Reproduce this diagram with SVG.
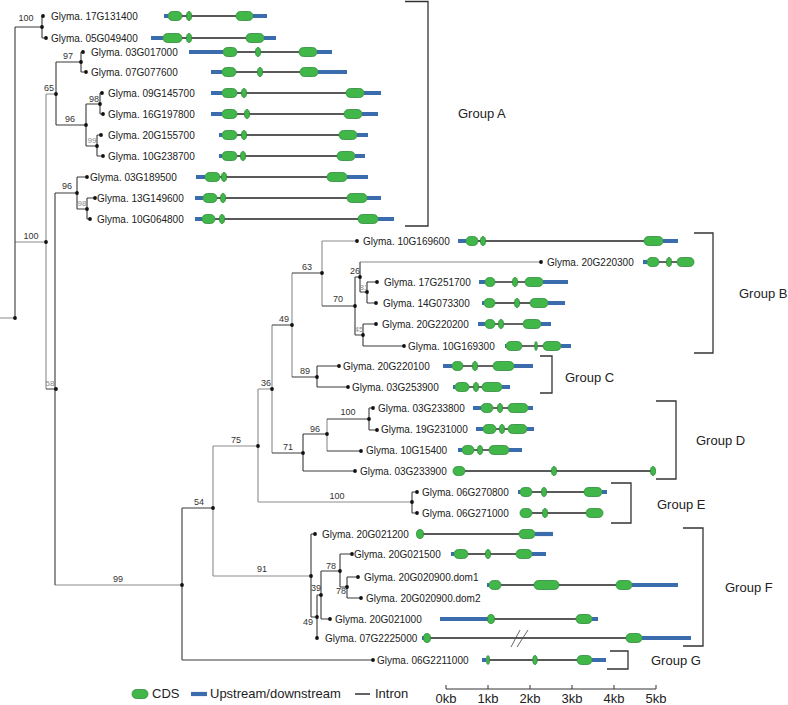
<svg xmlns="http://www.w3.org/2000/svg" width="788" height="705" viewBox="0 0 788 705">
<style>
text{font-family:"Liberation Sans",Arial,sans-serif}
.l{font-size:10px;fill:#222}
.s{font-size:9px;fill:#333;text-anchor:middle}
.sg{font-size:8px;fill:#888;text-anchor:middle}
.gl{font-size:13px;fill:#222}
.lg{font-size:13px;fill:#222}
.ax{font-size:13px;fill:#222;text-anchor:middle}
.t{fill:none;stroke:#3a3a3a;stroke-width:1.1}
.tg{fill:none;stroke:#8c8c8c;stroke-width:1.1}
.u{fill:none;stroke:#3b6cae;stroke-width:4.2}
.i{fill:none;stroke:#222;stroke-width:1.4}
.c{fill:#41b649;stroke:#2d8a3a;stroke-width:0.8}
.br{fill:none;stroke:#333;stroke-width:1.3}
.d{fill:#111}
</style>
<rect width="788" height="705" fill="#fff"/>

<g id="connectors">
<path class="tg" d="M0 318H15 M15 242H46 M46 94V389 M46 94H56 M55 585H182 M213 446V576 M213 446H258 M258 389V502 M258 389H272 M272 325V453 M292 273V377 M322 241V306 M322 241H357 M360 262H541 M327 419V451 M258 502H412 M213 576H311"/>
<path class="t" d="M15 27V318 M15 27H42 M42 16V38 M42 16H43 M42 38H46
M56 62V125 M56 62H81 M81 52V72 M81 52H83 M81 72H86 M56 125H86 M86 104V146 M86 104H100 M100 93V114 M100 93H102 M100 114H103 M86 146H97 M97 135V156 M97 135H101 M97 156H103
M46 389H55 M55 193V585 M55 193H77 M77 177V209 M77 177H87 M77 209H87 M87 198V219 M87 198H95 M87 219H90
M182 508V660 M182 660H373 M182 508H213
M272 325H292 M292 273H322 M322 306H355 M355 277V335 M355 277H360 M360 262V292 M360 292H367 M367 282V303 M367 282H377 M367 303H376 M355 335H363 M363 324V346 M363 324H376 M363 346H404
M292 377H317 M317 366V387 M317 366H339 M317 387H348
M272 453H303 M303 434V471 M303 434H327 M327 419H369 M369 408V430 M369 408H373 M369 430H377 M327 451H361 M303 471H355
M412 492V513 M412 492H417 M412 513H417
M311 534V617 M311 534H315 M311 617H317 M317 595V638 M317 595H321 M321 571V619 M321 571H340 M340 554V587 M340 554H352 M340 587H347 M347 577V598 M347 577H358 M347 598H361 M321 619H330"/>
<g class="d">
<circle cx="15" cy="318" r="1.9"/><circle cx="42" cy="27" r="1.9"/><circle cx="43" cy="16" r="1.9"/><circle cx="46" cy="38" r="1.9"/><circle cx="46" cy="242" r="1.9"/><circle cx="56" cy="94" r="1.9"/><circle cx="81" cy="62" r="1.9"/><circle cx="83" cy="52" r="1.9"/><circle cx="86" cy="72" r="1.9"/><circle cx="86" cy="125" r="1.9"/><circle cx="100" cy="104" r="1.9"/><circle cx="102" cy="93" r="1.9"/><circle cx="103" cy="114" r="1.9"/><circle cx="97" cy="146" r="1.9"/><circle cx="101" cy="135" r="1.9"/><circle cx="103" cy="156" r="1.9"/><circle cx="56" cy="389" r="1.9"/><circle cx="77" cy="193" r="1.9"/><circle cx="87" cy="177" r="1.9"/><circle cx="87" cy="209" r="1.9"/><circle cx="95" cy="198" r="1.9"/><circle cx="90" cy="219" r="1.9"/><circle cx="182" cy="585" r="1.9"/><circle cx="373" cy="660" r="1.9"/><circle cx="213" cy="508" r="1.9"/><circle cx="258" cy="446" r="1.9"/><circle cx="272" cy="389" r="1.9"/><circle cx="292" cy="325" r="1.9"/><circle cx="322" cy="273" r="1.9"/><circle cx="357" cy="241" r="1.9"/><circle cx="355" cy="306" r="1.9"/><circle cx="360" cy="277" r="1.9"/><circle cx="541" cy="262" r="1.9"/><circle cx="367" cy="292" r="1.9"/><circle cx="377" cy="282" r="1.9"/><circle cx="376" cy="303" r="1.9"/><circle cx="363" cy="335" r="1.9"/><circle cx="376" cy="324" r="1.9"/><circle cx="404" cy="346" r="1.9"/><circle cx="317" cy="377" r="1.9"/><circle cx="339" cy="366" r="1.9"/><circle cx="348" cy="387" r="1.9"/><circle cx="303" cy="453" r="1.9"/><circle cx="327" cy="434" r="1.9"/><circle cx="369" cy="419" r="1.9"/><circle cx="373" cy="408" r="1.9"/><circle cx="377" cy="430" r="1.9"/><circle cx="361" cy="451" r="1.9"/><circle cx="355" cy="471" r="1.9"/><circle cx="412" cy="502" r="1.9"/><circle cx="417" cy="492" r="1.9"/><circle cx="417" cy="513" r="1.9"/><circle cx="311" cy="576" r="1.9"/><circle cx="315" cy="534" r="1.9"/><circle cx="317" cy="617" r="1.9"/><circle cx="317" cy="638" r="1.9"/><circle cx="321" cy="595" r="1.9"/><circle cx="340" cy="571" r="1.9"/><circle cx="352" cy="554" r="1.9"/><circle cx="347" cy="587" r="1.9"/><circle cx="358" cy="577" r="1.9"/><circle cx="361" cy="598" r="1.9"/><circle cx="330" cy="619" r="1.9"/>
</g>
</g>

<g id="support">
<text class="s" x="26" y="21">100</text>
<text class="s" x="31" y="239">100</text>
<text class="s" x="49" y="91">65</text>
<text class="s" x="68" y="59">97</text>
<text class="s" x="70" y="122">96</text>
<text class="s" x="94" y="102">98</text>
<text class="sg" x="92" y="143">99</text>
<text class="s" x="67" y="189">96</text>
<text class="sg" x="82" y="206">98</text>
<text class="sg" x="50" y="386">58</text>
<text class="s" x="236" y="443">75</text>
<text class="s" x="118" y="582">99</text>
<text class="s" x="199" y="505">54</text>
<text class="s" x="266" y="386">36</text>
<text class="s" x="284" y="322">49</text>
<text class="s" x="307" y="270">63</text>
<text class="s" x="338" y="302">70</text>
<text class="s" x="355" y="274">26</text>
<text class="sg" x="364" y="290">81</text>
<text class="sg" x="359" y="332">45</text>
<text class="s" x="305" y="374">89</text>
<text class="s" x="288" y="450">71</text>
<text class="s" x="315" y="432">96</text>
<text class="s" x="348" y="415">100</text>
<text class="s" x="337" y="499">100</text>
<text class="s" x="262" y="572">91</text>
<text class="s" x="331" y="569">78</text>
<text class="s" x="316" y="591">39</text>
<text class="s" x="341" y="594">78</text>
<text class="s" x="308" y="625">49</text>
</g>

<g id="n-17G131400"><text class="l" x="51" y="19.5">Glyma. 17G131400</text><path class="u" d="M164 16H168 M253 16H267"/><path class="i" d="M182 16H236"/><rect class="c" x="168" y="11.5" width="14" height="9" rx="4.5"/><ellipse class="c" cx="189" cy="16" rx="2.5" ry="4.5"/><rect class="c" x="236" y="11.5" width="17" height="9" rx="4.5"/></g>
<g id="n-05G049400"><text class="l" x="51" y="41.5">Glyma. 05G049400</text><path class="u" d="M151 38H163 M264 38H276"/><path class="i" d="M182 38H246"/><rect class="c" x="163" y="33.5" width="19" height="9" rx="4.5"/><ellipse class="c" cx="189" cy="38" rx="2.5" ry="4.5"/><rect class="c" x="246" y="33.5" width="18" height="9" rx="4.5"/></g>
<g id="n-03G017000"><text class="l" x="91" y="55.5">Glyma. 03G017000</text><path class="u" d="M189 52H223 M317 52H332"/><path class="i" d="M237 52H299"/><rect class="c" x="223" y="47.5" width="14" height="9" rx="4.5"/><ellipse class="c" cx="258" cy="52" rx="2.5" ry="4.5"/><rect class="c" x="299" y="47.5" width="18" height="9" rx="4.5"/></g>
<g id="n-07G077600"><text class="l" x="91" y="75.5">Glyma. 07G077600</text><path class="u" d="M211 72H222 M318 72H347"/><path class="i" d="M236 72H300"/><rect class="c" x="222" y="67.5" width="14" height="9" rx="4.5"/><ellipse class="c" cx="260" cy="72" rx="2.5" ry="4.5"/><rect class="c" x="300" y="67.5" width="18" height="9" rx="4.5"/></g>
<g id="n-09G145700"><text class="l" x="108" y="96.5">Glyma. 09G145700</text><path class="u" d="M211 93H222 M364 93H381"/><path class="i" d="M237 93H346"/><rect class="c" x="222" y="88.5" width="15" height="9" rx="4.5"/><ellipse class="c" cx="244" cy="93" rx="2.5" ry="4.5"/><rect class="c" x="346" y="88.5" width="18" height="9" rx="4.5"/></g>
<g id="n-16G197800"><text class="l" x="108" y="117.5">Glyma. 16G197800</text><path class="u" d="M211 114H222 M362 114H378"/><path class="i" d="M237 114H344"/><rect class="c" x="222" y="109.5" width="15" height="9" rx="4.5"/><ellipse class="c" cx="247" cy="114" rx="2.5" ry="4.5"/><rect class="c" x="344" y="109.5" width="18" height="9" rx="4.5"/></g>
<g id="n-20G155700"><text class="l" x="108" y="138.5">Glyma. 20G155700</text><path class="u" d="M219 135H222 M357 135H368"/><path class="i" d="M237 135H339"/><rect class="c" x="222" y="130.5" width="15" height="9" rx="4.5"/><ellipse class="c" cx="244" cy="135" rx="2.5" ry="4.5"/><rect class="c" x="339" y="130.5" width="18" height="9" rx="4.5"/></g>
<g id="n-10G238700"><text class="l" x="108" y="159.5">Glyma. 10G238700</text><path class="u" d="M219 156H222 M355 156H365"/><path class="i" d="M237 156H337"/><rect class="c" x="222" y="151.5" width="15" height="9" rx="4.5"/><ellipse class="c" cx="243" cy="156" rx="2.5" ry="4.5"/><rect class="c" x="337" y="151.5" width="18" height="9" rx="4.5"/></g>
<g id="n-03G189500"><text class="l" x="90" y="180.5">Glyma. 03G189500</text><path class="u" d="M196 177H205 M347 177H368"/><path class="i" d="M220 177H327"/><rect class="c" x="205" y="172.5" width="15" height="9" rx="4.5"/><ellipse class="c" cx="224" cy="177" rx="2.5" ry="4.5"/><rect class="c" x="327" y="172.5" width="20" height="9" rx="4.5"/></g>
<g id="n-13G149600"><text class="l" x="97" y="201.5">Glyma. 13G149600</text><path class="u" d="M195 198H203 M367 198H381"/><path class="i" d="M217 198H347"/><rect class="c" x="203" y="193.5" width="14" height="9" rx="4.5"/><ellipse class="c" cx="223" cy="198" rx="2.5" ry="4.5"/><rect class="c" x="347" y="193.5" width="20" height="9" rx="4.5"/></g>
<g id="n-10G064800"><text class="l" x="97" y="222.5">Glyma. 10G064800</text><path class="u" d="M195 219H202 M378 219H394"/><path class="i" d="M215 219H358"/><rect class="c" x="202" y="214.5" width="13" height="9" rx="4.5"/><ellipse class="c" cx="222" cy="219" rx="2.5" ry="4.5"/><rect class="c" x="358" y="214.5" width="20" height="9" rx="4.5"/></g>

<g id="n-10G169600"><text class="l" x="363" y="244.5">Glyma. 10G169600</text><path class="u" d="M458 241H466 M663 241H678"/><path class="i" d="M478 241H644"/><rect class="c" x="466" y="236.5" width="12" height="9" rx="4.5"/><ellipse class="c" cx="483" cy="241" rx="2.5" ry="4.5"/><rect class="c" x="644" y="236.5" width="19" height="9" rx="4.5"/></g>
<g id="n-20G220300"><text class="l" x="547" y="265.5">Glyma. 20G220300</text><path class="u" d="M643 262H647"/><path class="i" d="M659 262H677"/><rect class="c" x="647" y="257.5" width="12" height="9" rx="4.5"/><ellipse class="c" cx="669" cy="262" rx="2.5" ry="4.5"/><rect class="c" x="677" y="257.5" width="17" height="9" rx="4.5"/></g>
<g id="n-17G251700"><text class="l" x="384" y="285.5">Glyma. 17G251700</text><path class="u" d="M479 282H485 M543 282H568"/><path class="i" d="M495 282H525"/><rect class="c" x="485" y="277.5" width="10" height="9" rx="4.5"/><ellipse class="c" cx="515" cy="282" rx="2.5" ry="4.5"/><rect class="c" x="525" y="277.5" width="18" height="9" rx="4.5"/></g>
<g id="n-14G073300"><text class="l" x="383" y="306.5">Glyma. 14G073300</text><path class="u" d="M482 303H484 M548 303H565"/><path class="i" d="M495 303H530"/><rect class="c" x="484" y="298.5" width="11" height="9" rx="4.5"/><ellipse class="c" cx="517" cy="303" rx="2.5" ry="4.5"/><rect class="c" x="530" y="298.5" width="18" height="9" rx="4.5"/></g>
<g id="n-20G220200"><text class="l" x="382" y="327.5">Glyma. 20G220200</text><path class="u" d="M478 324H485 M541 324H551"/><path class="i" d="M495 324H523"/><rect class="c" x="485" y="319.5" width="10" height="9" rx="4.5"/><ellipse class="c" cx="501" cy="324" rx="2.5" ry="4.5"/><rect class="c" x="523" y="319.5" width="18" height="9" rx="4.5"/></g>
<g id="n-10G169300"><text class="l" x="408" y="349.5">Glyma. 10G169300</text><path class="u" d="M505 346H506 M561 346H571"/><path class="i" d="M522 346H543"/><rect class="c" x="506" y="341.5" width="16" height="9" rx="4.5"/><ellipse class="c" cx="536" cy="346" rx="1.3" ry="4.5"/><rect class="c" x="543" y="341.5" width="18" height="9" rx="4.5"/></g>
<g id="n-20G220100"><text class="l" x="343" y="369.5">Glyma. 20G220100</text><path class="u" d="M443 366H452 M514 366H533"/><path class="i" d="M463 366H493"/><rect class="c" x="452" y="361.5" width="11" height="9" rx="4.5"/><ellipse class="c" cx="475" cy="366" rx="2.5" ry="4.5"/><rect class="c" x="493" y="361.5" width="21" height="9" rx="4.5"/></g>
<g id="n-03G253900"><text class="l" x="352" y="390.5">Glyma. 03G253900</text><path class="u" d="M453 387H455 M502 387H510"/><path class="i" d="M469 387H482"/><rect class="c" x="455" y="382.5" width="14" height="9" rx="4.5"/><ellipse class="c" cx="476" cy="387" rx="2.5" ry="4.5"/><rect class="c" x="482" y="382.5" width="20" height="9" rx="4.5"/></g>
<g id="n-03G233800"><text class="l" x="378" y="411.5">Glyma. 03G233800</text><path class="u" d="M473 408H481 M528 408H533"/><path class="i" d="M493 408H508"/><rect class="c" x="481" y="403.5" width="12" height="9" rx="4.5"/><ellipse class="c" cx="500" cy="408" rx="2.5" ry="4.5"/><rect class="c" x="508" y="403.5" width="20" height="9" rx="4.5"/></g>
<g id="n-19G231000"><text class="l" x="381" y="432.5">Glyma. 19G231000</text><path class="u" d="M476 429H483 M527 429H534"/><path class="i" d="M496 429H508"/><rect class="c" x="483" y="424.5" width="13" height="9" rx="4.5"/><ellipse class="c" cx="502" cy="429" rx="2.5" ry="4.5"/><rect class="c" x="508" y="424.5" width="19" height="9" rx="4.5"/></g>
<g id="n-10G15400"><text class="l" x="366" y="453.5">Glyma. 10G15400</text><path class="u" d="M458 450H462 M509 450H522"/><path class="i" d="M474 450H489"/><rect class="c" x="462" y="445.5" width="12" height="9" rx="4.5"/><ellipse class="c" cx="480" cy="450" rx="2.5" ry="4.5"/><rect class="c" x="489" y="445.5" width="20" height="9" rx="4.5"/></g>
<g id="n-03G233900"><text class="l" x="360" y="474.5">Glyma. 03G233900</text><path class="i" d="M465 471H653"/><rect class="c" x="453" y="466.5" width="12" height="9" rx="4.5"/><ellipse class="c" cx="554" cy="471" rx="2.5" ry="4.5"/><ellipse class="c" cx="653" cy="471" rx="2.5" ry="4.5"/></g>
<g id="n-06G270800"><text class="l" x="422" y="495.5">Glyma. 06G270800</text><path class="u" d="M518 492H520 M602 492H607"/><path class="i" d="M532 492H584"/><rect class="c" x="520" y="487.5" width="12" height="9" rx="4.5"/><ellipse class="c" cx="544" cy="492" rx="2.5" ry="4.5"/><rect class="c" x="584" y="487.5" width="18" height="9" rx="4.5"/></g>
<g id="n-06G271000"><text class="l" x="422" y="516.5">Glyma. 06G271000</text><path class="i" d="M532 513H586"/><rect class="c" x="520" y="508.5" width="12" height="9" rx="4.5"/><ellipse class="c" cx="545" cy="513" rx="2.5" ry="4.5"/><rect class="c" x="586" y="508.5" width="17" height="9" rx="4.5"/></g>
<g id="n-20G021200"><text class="l" x="322" y="537.5">Glyma. 20G021200</text><path class="u" d="M535 534H553"/><path class="i" d="M420 534H519"/><ellipse class="c" cx="420" cy="534" rx="3.5" ry="4.5"/><rect class="c" x="519" y="529.5" width="16" height="9" rx="4.5"/></g>
<g id="n-20G021500"><text class="l" x="354" y="557.5">Glyma. 20G021500</text><path class="u" d="M451 554H454 M532 554H546"/><path class="i" d="M468 554H516"/><rect class="c" x="454" y="549.5" width="14" height="9" rx="4.5"/><ellipse class="c" cx="488" cy="554" rx="2.5" ry="4.5"/><rect class="c" x="516" y="549.5" width="16" height="9" rx="4.5"/></g>
<g id="n-20G020900"><text class="l" x="364" y="580.5">Glyma. 20G020900.dom1</text><text class="l" x="366" y="601.5">Glyma. 20G020900.dom2</text><path class="u" d="M487 585H489 M632 585H678"/><path class="i" d="M501 585H616"/><rect class="c" x="489" y="580.5" width="12" height="9" rx="4.5"/><rect class="c" x="534" y="580.5" width="25" height="9" rx="4.5"/><rect class="c" x="616" y="580.5" width="16" height="9" rx="4.5"/></g>
<g id="n-20G021000"><text class="l" x="335" y="622.5">Glyma. 20G021000</text><path class="u" d="M440 619H488 M592 619H598"/><path class="i" d="M491 619H576"/><ellipse class="c" cx="491" cy="619" rx="3.5" ry="4.5"/><rect class="c" x="576" y="614.5" width="16" height="9" rx="4.5"/></g>
<g id="n-07G2225000"><text class="l" x="325" y="641.5">Glyma. 07G2225000</text><path class="u" d="M422 638H424 M642 638H691"/><path class="i" d="M427 638H626"/><ellipse class="c" cx="427" cy="638" rx="3.5" ry="4.5"/><rect class="c" x="626" y="633.5" width="16" height="9" rx="4.5"/><path fill="none" stroke="#555" stroke-width="0.9" d="M511 647L520 630 M517 647L528 630"/></g>
<g id="n-06G2211000"><text class="l" x="377" y="663.5">Glyma. 06G2211000</text><path class="u" d="M482 660H486 M592 660H606"/><path class="i" d="M488 660H577"/><ellipse class="c" cx="488" cy="660" rx="1.5" ry="4.5"/><ellipse class="c" cx="535" cy="660" rx="2.2" ry="4.5"/><rect class="c" x="577" y="655.5" width="15" height="9" rx="4.5"/></g>

<g id="group-A"><path class="br" d="M405 1.5H428V226H405"/><text class="gl" x="458" y="118">Group A</text></g>
<g id="group-B"><path class="br" d="M694 233H713V353H694"/><text class="gl" x="739" y="298">Group B</text></g>
<g id="group-C"><path class="br" d="M540 356H552V393H540"/><text class="gl" x="565" y="382">Group C</text></g>
<g id="group-D"><path class="br" d="M656 401H676V479H656"/><text class="gl" x="696" y="445">Group D</text></g>
<g id="group-E"><path class="br" d="M611 483H631V523H611"/><text class="gl" x="657" y="509">Group E</text></g>
<g id="group-F"><path class="br" d="M683 528H703V646H683"/><text class="gl" x="725" y="592">Group F</text></g>
<g id="group-G"><path class="br" d="M610 651H628V669H607"/><text class="gl" x="651" y="665">Group G</text></g>

<g id="legend">
<rect class="c" x="132" y="689.5" width="16" height="9" rx="4.5"/>
<text class="lg" x="152" y="698">CDS</text>
<line class="u" x1="191" y1="694" x2="207" y2="694"/>
<text class="lg" x="210" y="698">Upstream/downstream</text>
<line class="i" x1="355" y1="694" x2="370" y2="694"/>
<text class="lg" x="375" y="698">Intron</text>
</g>

<g id="scale">
<path fill="none" stroke="#333" stroke-width="1" d="M446 689H656 M446 685V689 M488 685V689 M530 685V689 M572 685V689 M614 685V689 M656 685V689"/>
<text class="ax" x="446" y="703">0kb</text>
<text class="ax" x="488" y="703">1kb</text>
<text class="ax" x="530" y="703">2kb</text>
<text class="ax" x="572" y="703">3kb</text>
<text class="ax" x="614" y="703">4kb</text>
<text class="ax" x="656" y="703">5kb</text>
</g>
</svg>
